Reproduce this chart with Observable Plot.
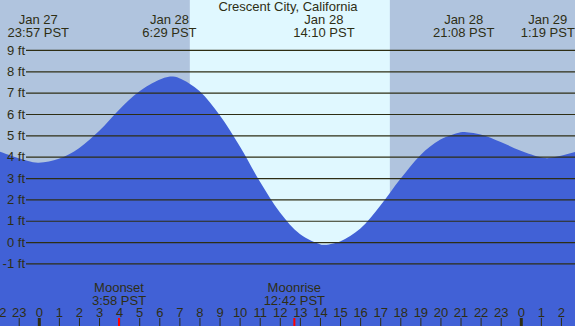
<!DOCTYPE html>
<html>
<head>
<meta charset="utf-8">
<script src="https://cdn.jsdelivr.net/npm/d3@7"></script>
<script src="https://cdn.jsdelivr.net/npm/@observablehq/plot@0.6"></script>
<style>
  html, body { margin: 0; padding: 0; background: #b0c4de; }
  #chart svg { display: block; }
</style>
</head>
<body>
<div id="chart"></div>
<script>
// Time in hours from Jan 28 00:00 PST
const tideHours = [-2, -1, -0.05, 1, 2, 3, 4, 5, 6, 6.48, 7, 8, 9, 10, 11, 12, 13, 14, 14.17, 15, 16, 17, 18, 19, 20, 21, 21.13, 22, 23, 24, 25, 25.32, 26, 27];
const tideFeet  = [4.25, 3.93, 3.72, 3.9, 4.4, 5.2, 6.2, 7.05, 7.6, 7.75, 7.68, 7.08, 5.95, 4.5, 2.85, 1.4, 0.38, -0.1, -0.13, 0.03, 0.62, 1.7, 2.95, 4.07, 4.8, 5.14, 5.16, 5.04, 4.69, 4.28, 3.97, 3.93, 4.04, 4.3];

const extremeHours  = [-0.05, 6.48, 14.17, 21.13, 25.32];
const extremeLabels = ["Jan 27\n23:57 PST", "Jan 28\n6:29 PST", "Jan 28\n14:10 PST", "Jan 28\n21:08 PST", "Jan 29\n1:19 PST"];

const moonHours  = [3.97, 12.7];
const moonLabels = ["Moonset\n3:58 PST", "Moonrise\n12:42 PST"];

const sunrise = [7.52];
const sunset  = [17.48];

const feetLevels = [-1, 0, 1, 2, 3, 4, 5, 6, 7, 8, 9];
const hourTicks = d3.range(-2, 27);
const midnights = [0, 24];
const title = "Crescent City, California";

const tide = tideHours.map((h, i) => ({h, ft: tideFeet[i]}));
const extremes = extremeHours.map((h, i) => ({h, label: extremeLabels[i]}));
const moons = moonHours.map((h, i) => ({h, label: moonLabels[i]}));
const daylight = sunrise.map((r, i) => ({rise: r, set: sunset[i]}));

const ink = "#2e2e14";
const xDomain = [-1.932, 26.70];
const yDomain = [-3.93, 11.34];

const chart = Plot.plot({
  width: 575,
  height: 326,
  margin: 0,
  x: {domain: xDomain, axis: null},
  y: {domain: yDomain, axis: null},
  style: {fontFamily: "'Liberation Sans', Arial, sans-serif", fontSize: "13px", background: "#b0c4de", overflow: "hidden"},
  marks: [
    Plot.rect(daylight, {x1: "rise", x2: "set", fill: "#e0f8ff"}),
    Plot.areaY(tide, {x: "h", y1: yDomain[0], y2: "ft", fill: "#4161d6", curve: "catmull-rom"}),
    Plot.ruleY(feetLevels, {stroke: ink, strokeWidth: 1.2, insetLeft: 26}),
    Plot.text(feetLevels, {y: d => d, text: d => `${d} ft`, frameAnchor: "left", textAnchor: "end", dx: 24.5, fill: ink}),
    Plot.text([title], {text: d => d, frameAnchor: "top", lineAnchor: "bottom", dy: 10.8, fill: ink}),
    Plot.text(extremes, {x: "h", text: "label", frameAnchor: "top", lineAnchor: "bottom", dy: 36, lineHeight: 0.96, fill: ink}),
    Plot.text(moons, {x: "h", text: "label", frameAnchor: "bottom", lineAnchor: "bottom", dy: -22, lineHeight: 0.95, fill: ink}),
    Plot.text(hourTicks, {x: d => d, text: d => String(((d % 24) + 24) % 24), frameAnchor: "bottom", lineAnchor: "bottom", dy: -9.3, fill: ink}),
    Plot.ruleX(hourTicks.filter(h => !midnights.includes(h)), {x: d => d, stroke: ink, strokeWidth: 1, insetTop: 318}),
    Plot.ruleX(midnights, {x: d => d, stroke: ink, strokeWidth: 3, insetTop: 318}),
    Plot.ruleX(moonHours, {x: d => d, stroke: "#ff0000", strokeWidth: 2, insetTop: 318})
  ]
});
document.getElementById("chart").append(chart);
</script>
</body>
</html>
